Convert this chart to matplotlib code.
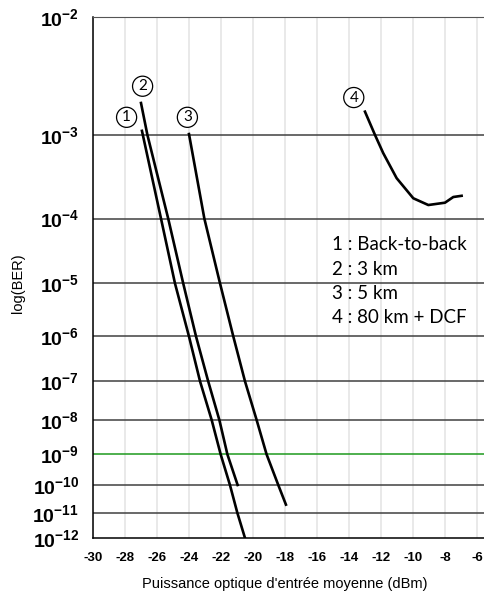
import numpy as np
import matplotlib
matplotlib.use("Agg")
import matplotlib.pyplot as plt
from matplotlib.transforms import blended_transform_factory

plt.rcParams['mathtext.fontset'] = 'custom'
plt.rcParams['mathtext.rm'] = 'Liberation Sans'
plt.rcParams['mathtext.bf'] = 'Liberation Sans:bold'

# BER curves (power in dBm, BER)
p1 = [-26.94, -25.75, -24.875, -24.0, -23.31, -22.58, -22.02, -21.44, -20.98, -20.5]
ber1 = [1.1e-3, 1e-4, 1e-5, 1e-6, 1e-7, 1e-8, 1e-9, 1e-10, 1e-11, 1e-12]

p2 = [-27.0, -26.6, -25.3, -24.36, -23.56, -22.8, -22.1, -21.6, -20.96]
ber2 = [2.05e-3, 1e-3, 1e-4, 1e-5, 1e-6, 1e-7, 1e-8, 1e-9, 1e-10]

p3 = [-24.0, -23.04, -22.06, -21.23, -20.5, -19.77, -19.15, -18.42, -17.94]
ber3 = [1.02e-3, 1e-4, 1e-5, 1e-6, 1e-7, 1e-8, 1e-9, 1e-10, 2e-11]

p4 = [-13.0, -12.375, -11.86, -11.02, -9.98, -9.04, -8.0, -7.48, -6.96]
ber4 = [1.7e-3, 1e-3, 6.4e-4, 3.3e-4, 1.86e-4, 1.52e-4, 1.63e-4, 1.93e-4, 2.0e-4]

curves = [(p1, ber1), (p2, ber2), (p3, ber3), (p4, ber4)]
curve_ids = ['1', '2', '3', '4']
legend_lines = ['1 : Back-to-back', '2 : 3 km', '3 : 5 km', '4 : 80 km + DCF']

decades = list(range(-2, -13, -1))
xticks = list(range(-30, -5, 2))


# BER scale: -log10(-log10(BER))
def fwd(y):
    y = np.clip(y, 1e-300, 0.999999)
    return -np.log10(-np.log10(y))


def inv(v):
    return 10.0 ** (-(10.0 ** (-v)))


fig = plt.figure(figsize=(4.84, 5.95), dpi=100)
ax = fig.add_axes([93 / 484, 57 / 595, 391 / 484, 521 / 595])
ax.set_yscale('function', functions=(fwd, inv))
ax.set_xlim(-30, -5.56)
ax.set_ylim(1e-12, 1e-2)

# grid
for x in xticks:
    ax.axvline(x, color='#e3e3e3', lw=1.1, zorder=0)
for d in decades[1:-1]:
    c = '#1e9a1e' if d == -9 else '#404040'
    ax.axhline(10.0 ** d, color=c, lw=1.1, zorder=1)

for p, b in curves:
    ax.plot(p, b, color='black', lw=1.9, zorder=3)

# circled curve numbers
id_pos = [(-27.9, 1.5e-3), (-26.9, 2.9e-3), (-24.1, 1.5e-3), (-13.7, 2.3e-3)]
for lab, (x, y) in zip(curve_ids, id_pos):
    ax.text(x, y, lab, ha='center', va='center', fontsize=11, family='Lato',
            bbox=dict(boxstyle='circle,pad=0.2', fc='white', ec='black', lw=0.9),
            zorder=4)

tr = blended_transform_factory(ax.transData, ax.transAxes)
for i, s in enumerate(legend_lines):
    ax.text(-15.06, 0.5624 - i * 0.0467, s, transform=tr, ha='left', va='center',
            fontsize=13.5, family='Lato')

ax.set_yticks([10.0 ** d for d in decades])
ax.set_yticklabels([r'$\mathbf{10^{%d}}$' % d for d in decades], fontsize=14)
ax.set_xticks(xticks)
ax.set_xticklabels([str(x) for x in xticks], fontsize=9.5, fontweight='bold',
                   family='Liberation Sans')
ax.tick_params(axis='both', length=0)
ax.tick_params(axis='x', pad=10)
ax.tick_params(axis='y', pad=10)

ax.spines['right'].set_visible(False)
ax.spines['top'].set_color('#555555')
ax.spines['left'].set_linewidth(1.1)
ax.spines['bottom'].set_linewidth(1.1)

ax.set_ylabel('log(BER)', fontsize=10.5, family='Liberation Sans')
ax.yaxis.set_label_coords(-0.175, 0.49)
ax.set_xlabel("Puissance optique d'entrée moyenne (dBm)", fontsize=10.5,
              family='Liberation Sans')
ax.xaxis.set_label_coords(0.49, -0.075)

fig.savefig('out.png', dpi=100)
